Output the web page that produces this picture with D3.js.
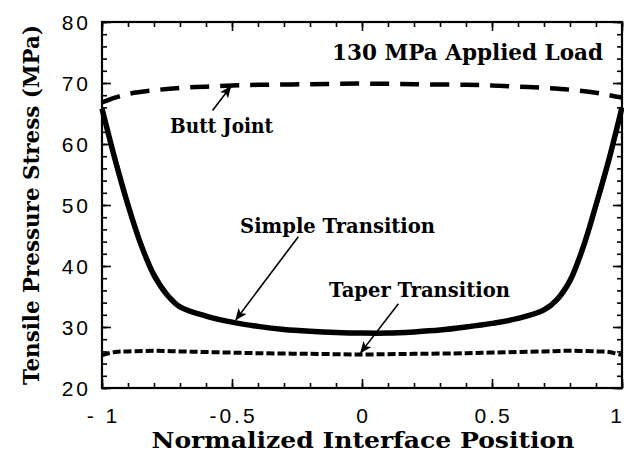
<!DOCTYPE html>
<html>
<head>
<meta charset="utf-8">
<script src="https://cdn.jsdelivr.net/npm/d3@7"></script>
<style>
  body { margin: 0; background: #fff; }
  .tick-label { font-family: "Liberation Sans", Arial, sans-serif; font-size: 21px; letter-spacing: 3px; fill: #000; }
  .serif { font-family: "DejaVu Serif", serif; font-weight: bold; fill: #000; }
</style>
</head>
<body>
<div id="chart"></div>
<script>
// 數據
const xTicks = [-1, -0.5, 0, 0.5, 1];
const xTickLabels = ["- 1", "-0.5", "0", "0.5", "1"];
const yTicks = [20, 30, 40, 50, 60, 70, 80];
const yTickLabels = ["20", "30", "40", "50", "60", "70", "80"];

const buttX = [-1, -0.95, -0.9, -0.8, -0.7, -0.6, -0.5, -0.4, -0.2, 0, 0.2, 0.4, 0.5, 0.6, 0.7, 0.8, 0.9, 0.95, 1];
const buttY = [66.8, 67.6, 68.2, 68.8, 69.2, 69.4, 69.6, 69.7, 69.8, 69.9, 69.8, 69.7, 69.6, 69.4, 69.2, 68.9, 68.4, 68.0, 67.6];

const simpleX = [-1, -0.95, -0.9, -0.85, -0.8, -0.75, -0.7, -0.6, -0.5, -0.4, -0.3, -0.2, -0.1, 0, 0.1, 0.2, 0.3, 0.4, 0.5, 0.6, 0.7, 0.75, 0.8, 0.85, 0.9, 0.95, 1];
const simpleY = [65.8, 57.5, 50.0, 43.5, 38.5, 35.3, 33.3, 31.8, 30.8, 30.1, 29.6, 29.3, 29.1, 29.0, 29.0, 29.2, 29.5, 30.0, 30.6, 31.4, 32.8, 34.5, 37.6, 43.0, 50.0, 57.5, 66.0];

const taperX = [-1, -0.95, -0.9, -0.8, -0.7, -0.6, -0.5, -0.4, -0.2, 0, 0.2, 0.4, 0.5, 0.6, 0.7, 0.8, 0.9, 0.95, 1];
const taperY = [25.4, 25.9, 26.0, 26.1, 26.0, 25.9, 25.8, 25.7, 25.6, 25.5, 25.6, 25.7, 25.8, 25.9, 26.0, 26.1, 26.0, 25.9, 25.4];

// 註解 (數據座標)
const labels = [
  { text: "130 MPa Applied Load", x: 0.927, y: 73.8, anchor: "end", size: 23, len: 271 },
  { text: "Butt Joint", x: -0.738, y: 61.8, anchor: "start", size: 21, len: 103 },
  { text: "Simple Transition", x: -0.469, y: 45.4, anchor: "start", size: 21, len: 195 },
  { text: "Taper Transition", x: -0.127, y: 34.9, anchor: "start", size: 21, len: 181 }
];
const arrows = [
  { x1: -0.575, y1: 65.5, x2: -0.505, y2: 69.4 },
  { x1: -0.245, y1: 44.8, x2: -0.485, y2: 31.2 },
  { x1: 0.14, y1: 33.8, x2: -0.005, y2: 25.8 }
];

const margin = { top: 22, right: 2, bottom: 64, left: 102 },
  width = 624 - margin.left - margin.right,
  height = 452 - margin.top - margin.bottom;

const root = d3.select("#chart").append("svg")
  .attr("width", 624)
  .attr("height", 452);

root.append("defs").append("marker")
  .attr("id", "head")
  .attr("viewBox", "0 0 12 10")
  .attr("refX", 11)
  .attr("refY", 5)
  .attr("markerWidth", 12)
  .attr("markerHeight", 10)
  .attr("markerUnits", "userSpaceOnUse")
  .attr("orient", "auto")
  .append("path")
  .attr("d", "M0,0 L12,5 L0,10 L3,5 Z")
  .attr("fill", "#000");

const svg = root.append("g").attr("transform", `translate(${margin.left},${margin.top})`);

const x = d3.scaleLinear().domain([-1, 1]).range([0, width]);
const y = d3.scaleLinear().domain([20, 80]).range([height, 0]);

// 刻度 (向內)
const minorX = d3.range(-10, 11).map((d) => d / 10);
const minorY = d3.range(20, 81, 2);

function tickAxis(axisFn, scale, values, size, transform) {
  const g = svg.append("g").attr("transform", transform)
    .call(axisFn(scale).tickValues(values).tickSize(-size).tickFormat(""));
  g.select(".domain").remove();
  g.selectAll("line").attr("stroke", "#000").attr("stroke-width", 1.6);
}
tickAxis(d3.axisBottom, x, minorX, 5, `translate(0,${height})`);
tickAxis(d3.axisTop, x, minorX, 5, "translate(0,0)");
tickAxis(d3.axisLeft, y, minorY, 5, "translate(0,0)");
tickAxis(d3.axisRight, y, minorY, 5, `translate(${width},0)`);
tickAxis(d3.axisBottom, x, xTicks, 9, `translate(0,${height})`);
tickAxis(d3.axisTop, x, xTicks, 9, "translate(0,0)");
tickAxis(d3.axisLeft, y, yTicks, 9, "translate(0,0)");
tickAxis(d3.axisRight, y, yTicks, 9, `translate(${width},0)`);

svg.append("rect")
  .attr("width", width)
  .attr("height", height)
  .attr("fill", "none")
  .attr("stroke", "#000")
  .attr("stroke-width", 2.2);

// 刻度標籤 (最後一個靠右邊界)
const lastX = xTicks.length - 1;
svg.selectAll(".xlab").data(xTicks).enter().append("text")
  .attr("class", "tick-label")
  .attr("x", (d, i) => (i === lastX ? width : x(d) + 1.5))
  .attr("y", height + 35)
  .attr("text-anchor", (d, i) => (i === lastX ? "end" : "middle"))
  .style("letter-spacing", (d, i) => (i === lastX ? "0px" : null))
  .text((d, i) => xTickLabels[i]);

svg.selectAll(".ylab").data(yTicks).enter().append("text")
  .attr("class", "tick-label")
  .attr("x", -11)
  .attr("y", (d) => y(d) + 7.5)
  .attr("text-anchor", "end")
  .text((d, i) => yTickLabels[i]);

// 軸標題
root.append("text")
  .attr("class", "serif")
  .attr("x", 363)
  .attr("y", 448)
  .attr("text-anchor", "middle")
  .style("font-size", "22px")
  .attr("textLength", 423)
  .attr("lengthAdjust", "spacingAndGlyphs")
  .text("Normalized Interface Position");

root.append("text")
  .attr("class", "serif")
  .attr("transform", "translate(39,205) rotate(-90)")
  .attr("text-anchor", "middle")
  .style("font-size", "22px")
  .attr("textLength", 360)
  .attr("lengthAdjust", "spacingAndGlyphs")
  .text("Tensile Pressure Stress (MPa)");

// 曲線
const line = d3.line()
  .x((d) => x(d[0]))
  .y((d) => y(d[1]))
  .curve(d3.curveCatmullRom);

svg.append("path")
  .datum(simpleX.map((d, i) => [d, simpleY[i]]))
  .attr("d", line)
  .attr("fill", "none")
  .attr("stroke", "#000")
  .attr("stroke-width", 5.5);

svg.append("path")
  .datum(buttX.map((d, i) => [d, buttY[i]]))
  .attr("d", line)
  .attr("fill", "none")
  .attr("stroke", "#000")
  .attr("stroke-width", 4.5)
  .attr("stroke-dasharray", "19,11");

svg.append("path")
  .datum(taperX.map((d, i) => [d, taperY[i]]))
  .attr("d", line)
  .attr("fill", "none")
  .attr("stroke", "#000")
  .attr("stroke-width", 4)
  .attr("stroke-dasharray", "8,3");

// 註解
svg.selectAll(".note").data(labels).enter().append("text")
  .attr("class", "serif")
  .attr("x", (d) => x(d.x))
  .attr("y", (d) => y(d.y))
  .attr("text-anchor", (d) => d.anchor)
  .style("font-size", (d) => d.size + "px")
  .attr("textLength", (d) => d.len)
  .attr("lengthAdjust", "spacingAndGlyphs")
  .text((d) => d.text);

svg.selectAll(".arrow").data(arrows).enter().append("line")
  .attr("x1", (d) => x(d.x1))
  .attr("y1", (d) => y(d.y1))
  .attr("x2", (d) => x(d.x2))
  .attr("y2", (d) => y(d.y2))
  .attr("stroke", "#000")
  .attr("stroke-width", 1.6)
  .attr("marker-end", "url(#head)");
</script>
</body>
</html>
